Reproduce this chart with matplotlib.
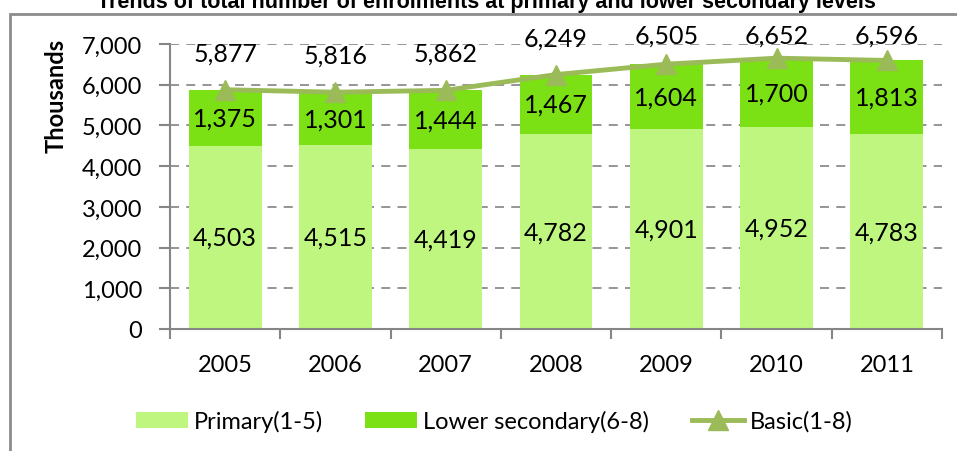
import numpy as np
import matplotlib.pyplot as plt
import matplotlib.patches as mpatches

plt.rcParams['font.family'] = ['Lato', 'DejaVu Sans']

years = ['2005', '2006', '2007', '2008', '2009', '2010', '2011']
primary = [4503, 4515, 4419, 4782, 4901, 4952, 4783]
lower = [1375, 1301, 1444, 1467, 1604, 1700, 1813]
basic = [5877, 5816, 5862, 6249, 6505, 6652, 6596]

c_prim = '#bef67f'
c_low = '#7be014'
c_line = '#9bbb59'
c_axis = '#868686'

fig = plt.figure(figsize=(9.57, 4.52), dpi=100)
ax = fig.add_axes([170/957, 1-330/452, (942-170)/957, (330-45)/452])

x = np.arange(len(years))
b1 = ax.bar(x, primary, width=0.66, color=c_prim, zorder=2, label='Primary(1-5)')
b2 = ax.bar(x, lower, width=0.66, bottom=primary, color=c_low, zorder=2, label='Lower secondary(6-8)')
ln, = ax.plot(x, basic, color=c_line, lw=3.5, marker='^', ms=14, zorder=3, label='Basic(1-8)')

# labels above the line, kept inside the plot top like Excel does
for i in range(len(years)):
    ax.text(x[i], primary[i]/2, f'{primary[i]:,}', ha='center', va='center', fontsize=18, zorder=4)
    ax.text(x[i], primary[i] + lower[i]/2, f'{lower[i]:,}', ha='center', va='center', fontsize=18, zorder=4)
    ax.text(x[i], min(basic[i] + 905, 7220), f'{basic[i]:,}', ha='center', va='center',
            fontsize=18, zorder=4, clip_on=False)

ax.set_ylim(0, 7000)
ax.set_xlim(-0.5, 6.5)
ax.set_yticks(range(0, 7001, 1000))
ax.set_yticklabels([f'{v:,}' for v in range(0, 7001, 1000)], fontsize=17)
ax.set_xticks(np.arange(-0.5, 7, 1))
ax.set_xticklabels([])
ax.set_xticks(x, minor=True)
ax.set_xticklabels(years, minor=True, fontsize=17)
ax.tick_params(axis='x', which='major', length=7, color=c_axis, width=1.5)
ax.tick_params(axis='x', which='minor', length=0, pad=18)
ax.tick_params(axis='y', length=8, color=c_axis, width=1.5, pad=12)
ax.yaxis.grid(True, ls=(0, (5, 4)), color='#8c8c8c', lw=1.3, zorder=0)
ax.set_axisbelow(True)
for s in ['top', 'right']:
    ax.spines[s].set_visible(False)
for s in ['left', 'bottom']:
    ax.spines[s].set_color(c_axis)
    ax.spines[s].set_linewidth(1.5)

ax.set_ylabel('Thousands', fontsize=17, fontweight='bold')
ax.yaxis.set_label_coords(-0.132, 0.82)

fig.legend([b1, b2, ln], ['Primary(1-5)', 'Lower secondary(6-8)', 'Basic(1-8)'],
           loc='center', bbox_to_anchor=(494/957, 1-422/452), ncol=3, frameon=False,
           fontsize=17, handlelength=2.2, handleheight=0.65, columnspacing=1.8, handletextpad=0.25)

fig.patches.append(mpatches.Rectangle((10/957, -0.2), 1.2, 1.2 - 15/452, transform=fig.transFigure,
                                      fill=False, ec='#8c8c8c', lw=2, clip_on=False))
fig.text(486/957, 1-8/452, 'Trends of total number of enrolments at primary and lower secondary levels',
         ha='center', va='baseline', fontsize=15.5, fontweight='bold', family=['Liberation Sans'])

fig.savefig('out.png', dpi=100)
